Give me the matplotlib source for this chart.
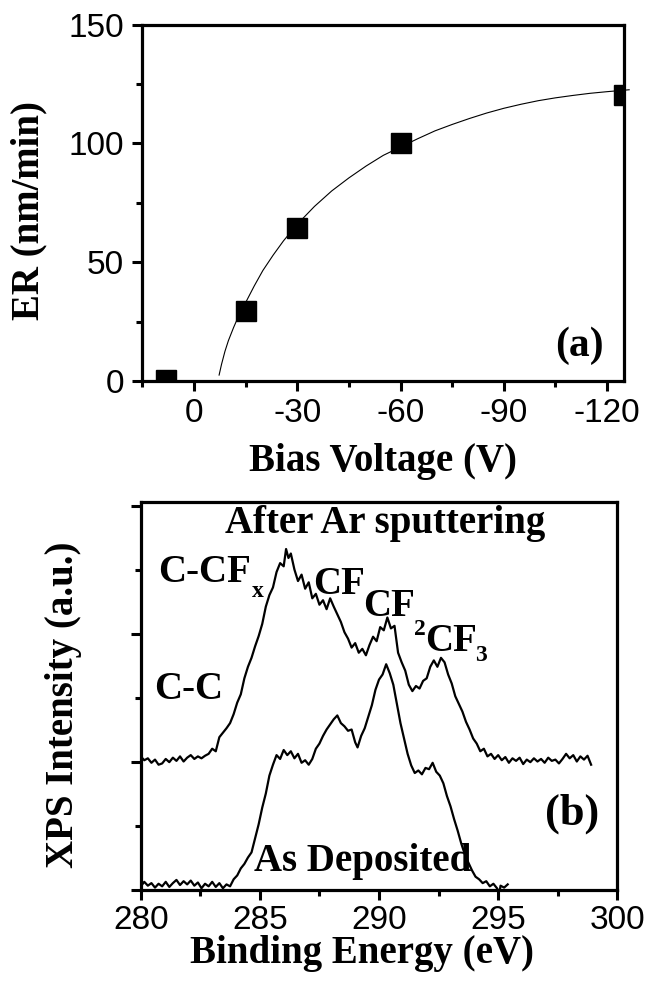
import numpy as np
import matplotlib.pyplot as plt
from matplotlib.ticker import MultipleLocator

# --- datos panel (a): velocidad de grabado vs voltaje de polarizacion ---
bias_v = [8, -15, -30, -60, -125]
er_nm_min = [0.5, 29.5, 64.5, 100, 120.5]

# curva de ajuste
fit_v = [-7.3, -8, -9, -10, -11.5, -13, -15, -17.5, -20, -23, -26, -30, -35, -40,
         -45, -50, -55, -60, -65, -70, -75, -80, -85, -90, -95, -100, -105, -110,
         -115, -120, -126.4]
fit_er = [2.5, 7, 12.5, 17, 22.5, 27.5, 33, 40, 46.5, 53, 59, 66, 73.5, 80,
          85.5, 90.5, 95, 98.5, 102, 105.3, 108, 110.5, 112.8, 114.8, 116.5, 118, 119.2, 120.2,
          121.1, 121.8, 122.6]

# --- datos panel (b): espectros XPS C1s ---
e_sput = [280.00, 280.15, 280.30, 280.45, 280.60, 280.75, 280.90, 281.05, 281.20, 281.35,
          281.50, 281.65, 281.80, 281.95, 282.10, 282.25, 282.40, 282.55, 282.70, 282.85,
          283.00, 283.15, 283.30, 283.45, 283.60, 283.75, 283.90, 284.05, 284.20, 284.35,
          284.50, 284.65, 284.80, 284.95, 285.10, 285.25, 285.40, 285.55, 285.70, 285.85,
          286.00, 286.10, 286.20, 286.30, 286.45, 286.60, 286.75, 286.90, 287.05, 287.20,
          287.35, 287.50, 287.65, 287.80, 287.95, 288.10, 288.25, 288.40, 288.55, 288.70,
          288.85, 289.00, 289.15, 289.30, 289.45, 289.60, 289.75, 289.90, 290.05, 290.20,
          290.35, 290.50, 290.65, 290.80, 290.95, 291.10, 291.25, 291.40, 291.55, 291.70,
          291.85, 292.00, 292.15, 292.30, 292.45, 292.60, 292.75, 292.90, 293.05, 293.20,
          293.35, 293.50, 293.65, 293.80, 293.95, 294.10, 294.25, 294.40, 294.55, 294.70,
          294.85, 295.00, 295.15, 295.30, 295.45, 295.60, 295.75, 295.90, 296.05, 296.20,
          296.35, 296.50, 296.65, 296.80, 296.95, 297.10, 297.25, 297.40, 297.55, 297.70,
          297.85, 298.00, 298.15, 298.30, 298.45, 298.60, 298.75, 298.90]
i_sput = [2.08, 2.02, 2.05, 1.98, 2.03, 1.95, 1.97, 2.04, 1.99, 2.06,
          2.01, 2.08, 2.00, 2.06, 2.10, 2.04, 2.08, 2.05, 2.09, 2.12,
          2.20, 2.16, 2.38, 2.45, 2.52, 2.60, 2.74, 2.92, 3.05, 3.30,
          3.48, 3.62, 3.80, 3.96, 4.15, 4.42, 4.60, 4.72, 4.96, 5.10,
          5.05, 5.32, 5.18, 5.25, 5.00, 4.82, 4.92, 4.70, 4.80, 4.55,
          4.62, 4.45, 4.52, 4.38, 4.55, 4.42, 4.30, 4.18, 4.02, 3.92,
          3.78, 3.85, 3.70, 3.76, 3.66, 3.82, 3.95, 3.88, 4.10, 4.05,
          4.25, 4.08, 4.12, 3.70, 3.55, 3.42, 3.20, 3.10, 3.18, 3.14,
          3.26, 3.30, 3.48, 3.58, 3.48, 3.62, 3.55, 3.36, 3.22, 3.02,
          2.90, 2.78, 2.62, 2.50, 2.36, 2.28, 2.16, 2.20, 2.08, 2.12,
          2.04, 2.10, 2.02, 2.07, 1.98, 2.05, 2.01, 2.06, 1.96, 2.03,
          1.99, 2.05, 2.00, 2.04, 1.98, 2.06, 2.01, 2.03, 1.97, 2.04,
          2.12, 2.05, 2.10, 2.00, 2.08, 2.03, 2.09, 1.95]

e_dep = [280.00, 280.15, 280.30, 280.45, 280.60, 280.75, 280.90, 281.05, 281.20, 281.35,
         281.50, 281.65, 281.80, 281.95, 282.10, 282.25, 282.40, 282.55, 282.70, 282.85,
         283.00, 283.15, 283.30, 283.45, 283.60, 283.75, 283.90, 284.05, 284.20, 284.35,
         284.50, 284.65, 284.80, 284.95, 285.10, 285.25, 285.40, 285.55, 285.70, 285.85,
         286.00, 286.15, 286.30, 286.45, 286.60, 286.75, 286.90, 287.05, 287.20, 287.35,
         287.50, 287.65, 287.80, 287.95, 288.10, 288.25, 288.40, 288.55, 288.70, 288.85,
         289.00, 289.10, 289.25, 289.40, 289.55, 289.70, 289.85, 290.00, 290.15, 290.30,
         290.45, 290.60, 290.75, 290.90, 291.05, 291.20, 291.35, 291.50, 291.65, 291.80,
         291.95, 292.10, 292.25, 292.40, 292.55, 292.70, 292.85, 293.00, 293.15, 293.30,
         293.45, 293.60, 293.75, 293.90, 294.05, 294.20, 294.35, 294.50, 294.65, 294.80,
         294.95, 295.05, 295.10, 295.25, 295.40]
i_dep = [0.05, 0.12, 0.06, 0.10, 0.03, 0.09, 0.05, 0.12, 0.04, 0.10,
         0.15, 0.07, 0.13, 0.08, 0.14, 0.06, 0.11, 0.02, 0.09, 0.05,
         0.12, 0.04, 0.10, 0.02, 0.08, 0.05, 0.16, 0.22, 0.33, 0.40,
         0.50, 0.58, 0.80, 1.02, 1.28, 1.50, 1.78, 1.95, 2.10, 2.04,
         2.18, 2.10, 2.16, 2.05, 2.12, 1.98, 2.02, 1.95, 2.04, 2.20,
         2.28, 2.40, 2.50, 2.58, 2.66, 2.72, 2.60, 2.55, 2.48, 2.50,
         2.30, 2.22, 2.40, 2.52, 2.70, 2.88, 3.12, 3.28, 3.36, 3.52,
         3.38, 3.20, 2.90, 2.60, 2.36, 2.12, 1.94, 1.82, 1.86, 1.80,
         1.90, 1.88, 1.98, 1.84, 1.78, 1.66, 1.46, 1.30, 1.10, 0.92,
         0.72, 0.55, 0.42, 0.30, 0.20, 0.16, 0.10, 0.13, 0.05, 0.09,
         0.02, -0.05, 0.06, 0.03, 0.08]

serif = ['Liberation Serif', 'DejaVu Serif']
sans = ['Liberation Sans', 'DejaVu Sans']
plt.rcParams['font.family'] = sans

W, H = 649, 983
fig = plt.figure(figsize=(W / 100, H / 100), dpi=100)

def fig_label(x_px, y_px, texto, **kw):
    # texto de figura ubicado en pixeles desde la esquina superior izquierda
    fig.text(x_px / W, 1 - y_px / H, texto, family=serif, fontweight='bold',
             ha='center', va='center', **kw)

# ====================
# PANEL (a)
# ====================
ax1 = fig.add_axes([0.2193, 0.6124, 0.7427, 0.3625])
ax1.plot(fit_v, fit_er, color='black', lw=0.8, clip_on=False)
ax1.plot(bias_v, er_nm_min, 's', color='black', ms=14.5)
ax1.set_xlim(15, -125)
ax1.set_ylim(0, 150)
ax1.set_xticks([0, -30, -60, -90, -120])
ax1.set_xticklabels(['0', '-30', '-60', '-90', '-120'])
ax1.xaxis.set_minor_locator(MultipleLocator(15))
ax1.yaxis.set_major_locator(MultipleLocator(50))
ax1.yaxis.set_minor_locator(MultipleLocator(25))
ax1.tick_params(axis='x', which='major', direction='out', length=7, width=2.2, labelsize=24, pad=5)
ax1.tick_params(axis='y', which='major', direction='out', length=7, width=2.2, labelsize=24, pad=6)
ax1.tick_params(which='minor', direction='out', length=4, width=2.2)
for s in ax1.spines.values():
    s.set_linewidth(2.3)
ax1.text(-112, 15, '(a)', family=serif, fontweight='bold', fontsize=30, ha='center', va='center')

fig_label(383, 461, 'Bias Voltage (V)', fontsize=28)
fig_label(29, 210, 'ER (nm/min)', fontsize=28, rotation=90)

# ====================
# PANEL (b)
# ====================
ax2 = fig.add_axes([0.2168, 0.0951, 0.7344, 0.3939])
ax2.plot(e_sput, i_sput, color='black', lw=1.6)
ax2.plot(e_dep, i_dep, color='black', lw=1.6)
ax2.set_xlim(280, 300)
ax2.set_ylim(0, 6.05)
ax2.xaxis.set_major_locator(MultipleLocator(5))
ax2.xaxis.set_minor_locator(MultipleLocator(2.5))
ax2.yaxis.set_major_locator(MultipleLocator(2))
ax2.yaxis.set_minor_locator(MultipleLocator(1))
ax2.tick_params(axis='x', which='major', direction='out', length=7, width=2.2, labelsize=24, pad=4)
ax2.tick_params(axis='y', which='major', direction='out', length=7, width=2.2, labelleft=False)
ax2.tick_params(which='minor', direction='out', length=4, width=2.2)
for s in ax2.spines.values():
    s.set_linewidth(2.3)

fig_label(362, 953, 'Binding Energy (eV)', fontsize=28)
fig_label(64, 705, 'XPS Intensity (a.u.)', fontsize=28, rotation=90)

lab = dict(family=serif, fontweight='bold', color='black', va='center')
ax2.text(290.25, 5.72, 'After Ar sputtering', ha='center', fontsize=28, **lab)
ax2.text(280.75, 4.96, 'C-CF', ha='left', fontsize=28, **lab)
ax2.text(284.65, 4.66, 'x', ha='left', fontsize=17, **lab)
ax2.text(287.25, 4.77, 'CF', ha='left', fontsize=28, **lab)
ax2.text(289.35, 4.42, 'CF', ha='left', fontsize=28, **lab)
ax2.text(291.45, 4.07, '2', ha='left', fontsize=17, **lab)
ax2.text(291.95, 3.88, 'CF', ha='left', fontsize=28, **lab)
ax2.text(294.05, 3.66, '3', ha='left', fontsize=17, **lab)
ax2.text(280.55, 3.13, 'C-C', ha='left', fontsize=28, **lab)
ax2.text(289.3, 0.43, 'As Deposited', ha='center', fontsize=28, **lab)
ax2.text(298.1, 1.19, '(b)', ha='center', fontsize=32, **lab)

fig.savefig('out.png', dpi=100)
